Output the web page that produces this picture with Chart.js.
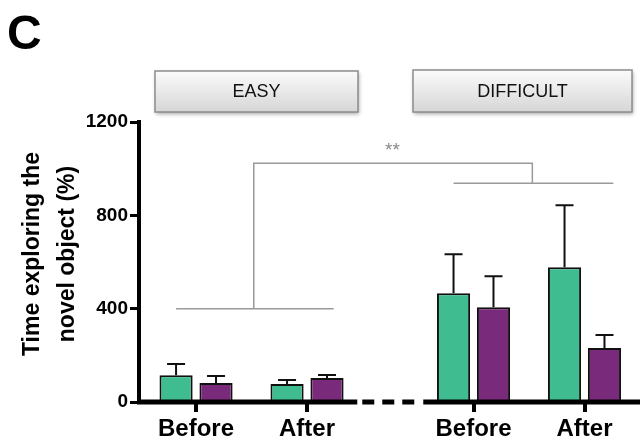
<!DOCTYPE html>
<html>
<head>
<meta charset="utf-8">
<script src="https://cdn.jsdelivr.net/npm/chart.js@4/dist/chart.umd.min.js"></script>
<style>
  body { margin: 0; background: #fff; }
  #wrap { width: 640px; height: 441px; }
</style>
</head>
<body>
<div id="wrap"><canvas id="chart" width="640" height="441"></canvas></div>
<script>
// values
const categories = ["Before", "After", "Before", "After"];
const groups = ["EASY", "DIFFICULT"];
const greenMeans = [115, 77, 466, 578];
const greenSem = [48, 17, 167, 265];
const purpleMeans = [81, 103, 406, 231];
const purpleSem = [30, 13, 133, 56];
const yTicks = [0, 400, 800, 1200];

// difficult group sits a bit further along the axis
const groupGap = 0.5;
const xPos = categories.map((c, i) => i + (i >= 2 ? groupGap : 0));

const GREEN = "#3fbd90";
const PURPLE = "#7a2a7b";
const FONT = "'Liberation Sans', Arial, sans-serif";

function toPoints(vals) {
  return vals.map((v, i) => ({ x: xPos[i], y: v }));
}

// upward-only error bars
const errorBars = {
  id: "errorBars",
  afterDatasetsDraw(chart) {
    const ctx = chart.ctx;
    const y = chart.scales.y;
    const sems = [greenSem, purpleSem];
    ctx.save();
    ctx.strokeStyle = "#111";
    ctx.lineWidth = 2;
    chart.data.datasets.forEach((ds, d) => {
      chart.getDatasetMeta(d).data.forEach((bar, i) => {
        const top = y.getPixelForValue(ds.data[i].y + sems[d][i]);
        ctx.beginPath();
        ctx.moveTo(bar.x, bar.y);
        ctx.lineTo(bar.x, top);
        ctx.moveTo(bar.x - 9, top);
        ctx.lineTo(bar.x + 9, top);
        ctx.stroke();
      });
    });
    ctx.restore();
  }
};

// broken x axis, brackets, headers, titles
const decorations = {
  id: "decorations",
  afterDraw(chart) {
    const ctx = chart.ctx;
    const { left, right, bottom } = chart.chartArea;
    const x = chart.scales.x;
    const y = chart.scales.y;
    ctx.save();

    // x axis with dashed break
    const mid = x.getPixelForValue((xPos[1] + xPos[2]) / 2);
    ctx.strokeStyle = "#000";
    ctx.lineWidth = 5;
    ctx.beginPath();
    ctx.moveTo(left - 2, bottom);
    ctx.lineTo(mid - 33, bottom);
    ctx.moveTo(mid + 33, bottom);
    ctx.lineTo(right, bottom);
    ctx.stroke();
    ctx.setLineDash([12, 8]);
    ctx.beginPath();
    ctx.moveTo(mid - 28, bottom);
    ctx.lineTo(mid + 24, bottom);
    ctx.stroke();
    ctx.setLineDash([]);

    // significance bracket
    const px = v => x.getPixelForValue(v);
    const py = v => y.getPixelForValue(v);
    ctx.strokeStyle = "#9a9a9a";
    ctx.lineWidth = 1.5;
    ctx.beginPath();
    ctx.moveTo(px(-0.18), py(400));
    ctx.lineTo(px(1.24), py(400));
    ctx.moveTo(px(0.52), py(400));
    ctx.lineTo(px(0.52), py(1023));
    ctx.lineTo(px(3.03), py(1023));
    ctx.lineTo(px(3.03), py(937));
    ctx.moveTo(px(2.32), py(937));
    ctx.lineTo(px(3.76), py(937));
    ctx.stroke();
    ctx.fillStyle = "#8a8a8a";
    ctx.font = "19px " + FONT;
    ctx.textAlign = "center";
    ctx.textBaseline = "middle";
    ctx.fillText("**", px(1.77), py(1078));

    // group header boxes
    const boxes = [[155, 71, 203, 41], [413, 70, 219, 42]];
    boxes.forEach((b, i) => {
      const [bx, by, bw, bh] = b;
      ctx.save();
      ctx.shadowColor = "rgba(0,0,0,0.35)";
      ctx.shadowBlur = 4;
      ctx.shadowOffsetX = 1;
      ctx.shadowOffsetY = 2;
      const g = ctx.createLinearGradient(0, by, 0, by + bh);
      g.addColorStop(0, "#fbfbfb");
      g.addColorStop(1, "#d6d6d6");
      ctx.fillStyle = g;
      ctx.fillRect(bx, by, bw, bh);
      ctx.restore();
      ctx.strokeStyle = "#8c8c8c";
      ctx.lineWidth = 1.5;
      ctx.strokeRect(bx, by, bw, bh);
      ctx.fillStyle = "#111";
      ctx.font = "18px " + FONT;
      ctx.fillText(groups[i], bx + bw / 2, by + bh / 2 + 1);
    });

    // panel letter
    ctx.fillStyle = "#000";
    ctx.font = "bold 48px " + FONT;
    ctx.textAlign = "left";
    ctx.textBaseline = "alphabetic";
    ctx.fillText("C", 7, 49);

    // y axis title
    ctx.translate(50, 254);
    ctx.rotate(-Math.PI / 2);
    ctx.font = "bold 23px " + FONT;
    ctx.textAlign = "center";
    ctx.fillText("Time exploring the", 0, -11);
    ctx.fillText("novel object (%)", 0, 24);
    ctx.restore();
  }
};

new Chart(document.getElementById("chart"), {
  type: "bar",
  data: {
    datasets: [
      { data: toPoints(greenMeans), backgroundColor: GREEN, borderColor: "#111", borderWidth: 2 },
      { data: toPoints(purpleMeans), backgroundColor: PURPLE, borderColor: "#111", borderWidth: 2 }
    ]
  },
  options: {
    responsive: false,
    animation: false,
    categoryPercentage: 0.72,
    barPercentage: 0.83,
    layout: { padding: { top: 122, left: 0, right: 0, bottom: 0 } },
    plugins: { legend: { display: false }, tooltip: { enabled: false } },
    scales: {
      x: {
        type: "linear",
        offset: false,
        min: -0.514,
        max: 4.0,
        afterFit: s => { s.height = 39; },
        afterBuildTicks: s => { s.ticks = xPos.map(v => ({ value: v })); },
        border: { display: false },
        grid: { offset: false, drawOnChartArea: false, color: "#000", lineWidth: 4, tickLength: 10 },
        ticks: {
          callback: (v, i) => categories[i],
          color: "#000",
          font: { family: FONT, size: 24, weight: "bold" },
          padding: 3,
          maxRotation: 0,
          autoSkip: false
        }
      },
      y: {
        min: 0,
        max: 1200,
        afterFit: s => { s.width = 139; },
        afterBuildTicks: s => { s.ticks = yTicks.map(v => ({ value: v })); },
        border: { color: "#000", width: 4 },
        grid: { drawOnChartArea: false, color: "#000", lineWidth: 3, tickLength: 9 },
        ticks: {
          callback: v => String(v),
          color: "#000",
          font: { family: FONT, size: 19, weight: "bold" },
          padding: 2
        }
      }
    }
  },
  plugins: [errorBars, decorations]
});
</script>
</body>
</html>
